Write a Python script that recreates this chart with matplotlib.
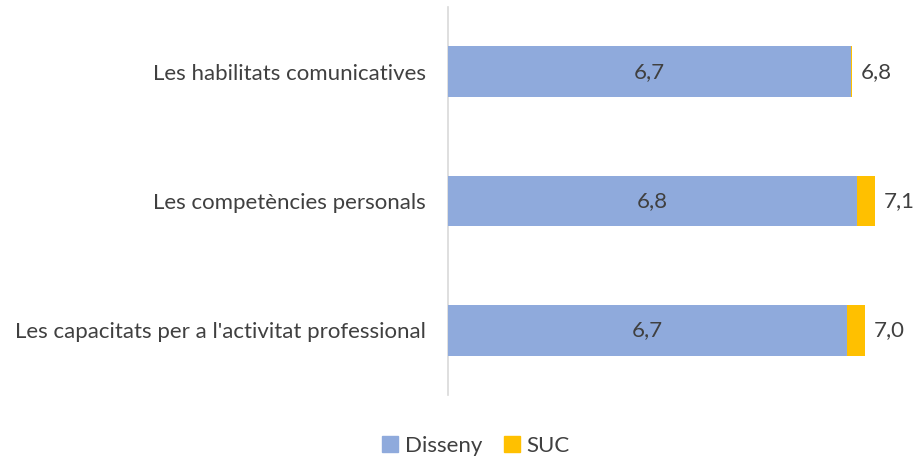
import matplotlib.pyplot as plt
from matplotlib.patches import Patch

categories = ["Les habilitats comunicatives",
              "Les competències personals",
              "Les capacitats per a l'activitat professional"]
disseny = [6.74, 6.84, 6.67]
suc = [6.75, 7.14, 6.97]

BLUE = '#8FAADC'
YELLOW = '#FFC000'
TEXT = '#404040'

plt.rcParams['font.family'] = ['Lato', 'DejaVu Sans']

fig = plt.figure(figsize=(9.2, 4.61), dpi=100)
W, H = 920, 461
ax = fig.add_axes([448 / W, 1 - 395 / H, (905 - 448) / W, (395 - 7) / H])

y = list(range(len(categories)))
# SUC behind, Disseny on top (overlapping bars)
ax.barh(y, suc, height=0.39, color=YELLOW, zorder=2)
ax.barh(y, disseny, height=0.39, color=BLUE, zorder=3)

for yi, d, s in zip(y, disseny, suc):
    ax.text(d / 2, yi, f"{d:.1f}".replace('.', ','), ha='center', va='center',
            fontsize=16, color=TEXT, zorder=4)
    ax.text(s + 0.15, yi, f"{s:.1f}".replace('.', ','), ha='left', va='center',
            fontsize=16, color=TEXT, zorder=4)

ax.set_xlim(0, (905 - 448) / 59.8)
ax.set_ylim(len(categories) - 0.5, -0.5)
ax.set_yticks(y)
ax.set_yticklabels(categories, fontsize=16, color=TEXT)
ax.tick_params(axis='y', length=0, pad=16)
ax.set_xticks([])
for side in ['top', 'right', 'bottom']:
    ax.spines[side].set_visible(False)
ax.spines['left'].set_color('#D9D9D9')
ax.spines['left'].set_linewidth(1.2)

handles = [Patch(color=BLUE, label='Disseny'), Patch(color=YELLOW, label='SUC')]
fig.legend(handles=handles, loc='center', bbox_to_anchor=(476 / W, 1 - 446 / H),
           ncol=2, frameon=False, fontsize=16, handlelength=0.7, handleheight=0.7,
           handletextpad=0.3, columnspacing=1.0, labelcolor=TEXT)

fig.savefig('out.png', dpi=100)
